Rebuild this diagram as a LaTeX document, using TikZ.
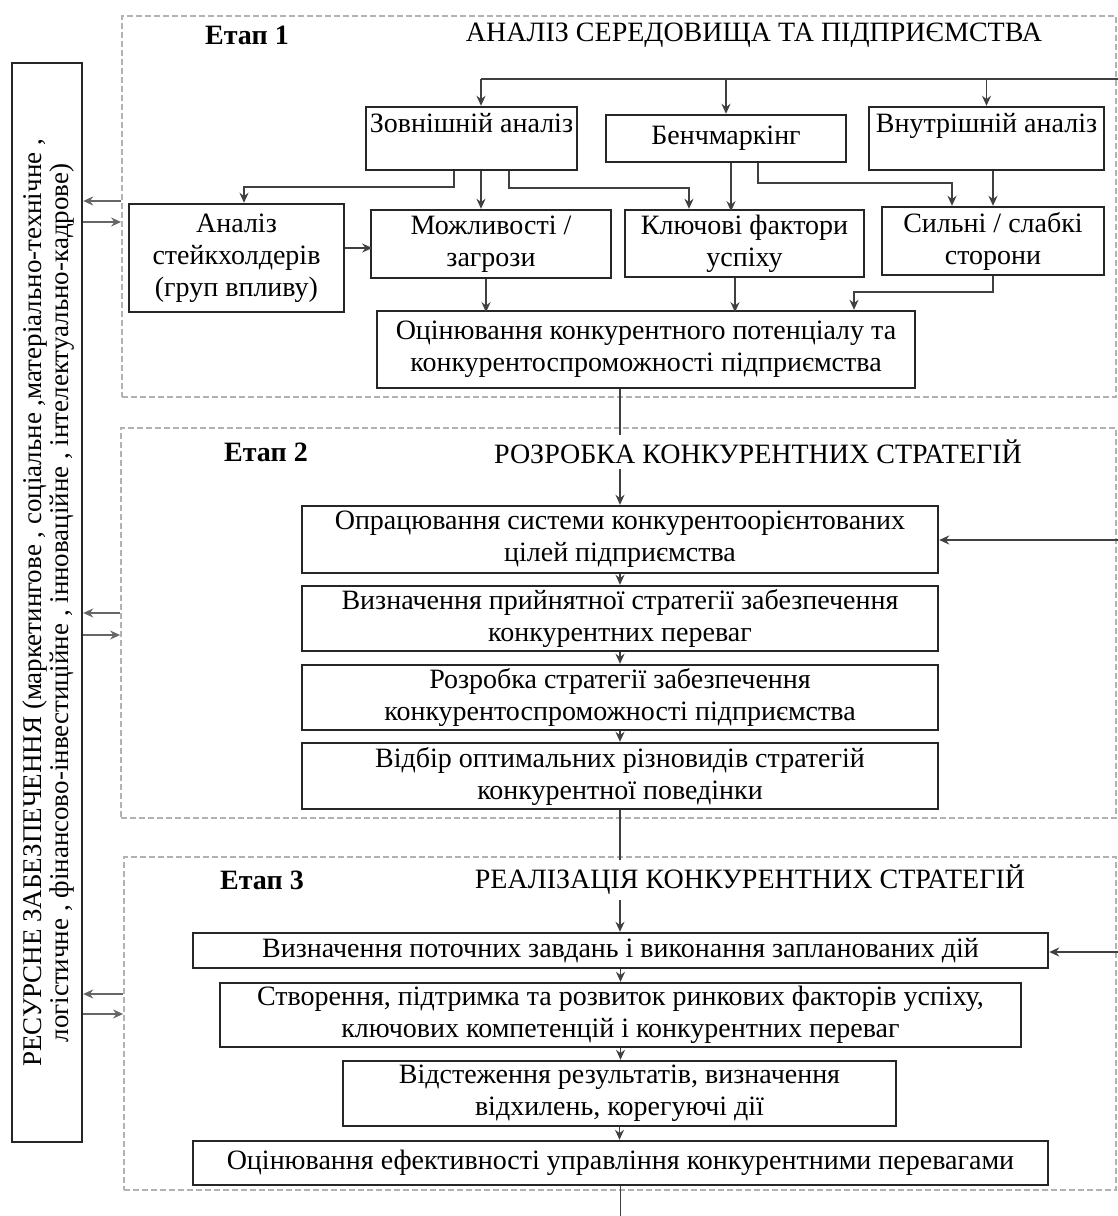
\documentclass[tikz,border=0pt]{standalone}
\usepackage{fontspec}
\setmainfont{Liberation Serif}
\usetikzlibrary{arrows.meta, positioning}

\begin{document}
\begin{tikzpicture}[
  x=0.5pt, y=-0.5pt, >={Stealth[length=5pt,width=4.5pt]},
  every node/.style={font=\fontsize{14}{16}\selectfont},
  blk/.style={draw=black!85, line width=1.2pt, align=center, inner sep=1pt},
  stage/.style={draw=black!30, line width=0.9pt, dash pattern=on 3pt off 1.5pt},
  etap/.style={font=\bfseries\fontsize{14}{16}\selectfont},
  head/.style={fill=white, inner ysep=2.5pt},
  conn/.style={draw=black!75, line width=0.9pt},
  side/.style={draw=black!60, line width=0.7pt, ->}
]
  \useasboundingbox (0,0) rectangle (1118,1216);
  \node[blk, minimum width=35pt, minimum height=539.5pt] (res) at (47,602.5) {};
  \node[rotate=90, align=center, font=\fontsize{13.5}{13.5}\selectfont] (restxt) at (48.5,603)
    {РЕСУРСНЕ ЗАБЕЗПЕЧЕННЯ (маркетингове , соціальне ,матеріально-технічне ,\\логістичне , фінансово-інвестиційне , інноваційне , інтелектуально-кадрове)};

  \node[stage, minimum width=497pt, minimum height=190.5pt] (st1) at (619,206.5) {};
  \node[stage, minimum width=497.5pt, minimum height=195pt] (st2) at (618.5,623) {};
  \node[stage, minimum width=496pt, minimum height=166.5pt] (st3) at (620,1023.5) {};

  \node[blk, minimum width=105.5pt, minimum height=31.5pt] (ext) at (471.5,138.5) {Зовнішній аналіз\\~};
  \node[blk, minimum width=120pt, minimum height=23.5pt] (bench) at (726,138.5) {Бенчмаркінг};
  \node[blk, minimum width=117.5pt, minimum height=31.5pt] (int) at (986.5,138.5) {Внутрішній аналіз\\~};
  \node[blk, minimum width=107.5pt, minimum height=54pt] (stake) at (236.5,258) {Аналіз\\стейкхолдерів\\(груп впливу)};
  \node[blk, minimum width=120pt, minimum height=34pt] (opp) at (491,244) {Можливості /\\загрози};
  \node[blk, minimum width=119.5pt, minimum height=33.5pt] (ksf) at (744.5,243.5) {Ключові фактори\\успіху};
  \node[blk, minimum width=111pt, minimum height=34pt] (sw) at (993,241) {Сильні / слабкі\\сторони};
  \node[blk, minimum width=269pt, minimum height=38.5pt] (eval) at (646,349.5) {Оцінювання конкурентного потенціалу та\\конкурентоспроможності підприємства};

  \node[blk, minimum width=318pt, minimum height=33.5pt] (g1) at (620,539.5) {Опрацювання системи конкурентоорієнтованих\\цілей підприємства};
  \node[blk, minimum width=318pt, minimum height=32.5pt] (g2) at (620,618.5) {Визначення прийнятної стратегії забезпечення\\конкурентних переваг};
  \node[blk, minimum width=318pt, minimum height=32.5pt] (g3) at (620,697.5) {Розробка стратегії забезпечення\\конкурентоспроможності підприємства};
  \node[blk, minimum width=318pt, minimum height=33pt] (g4) at (620,776) {Відбір оптимальних різновидів стратегій\\конкурентної поведінки};

  \node[blk, minimum width=427.5pt, minimum height=17.5pt] (r1) at (620.5,950.5) {Визначення поточних завдань і виконання запланованих дій};
  \node[blk, minimum width=400.5pt, minimum height=32pt] (r2) at (620.5,1015) {Створення, підтримка та розвиток ринкових факторів успіху,\\ключових компетенцій і конкурентних переваг};
  \node[blk, minimum width=276.5pt, minimum height=32.5pt] (r3) at (619.5,1093.5) {Відстеження результатів, визначення\\відхилень, корегуючі дії};
  \node[blk, minimum width=427.5pt, minimum height=22pt] (r4) at (620.5,1163) {Оцінювання ефективності управління конкурентними перевагами};

  \coordinate (busL) at (481,79); \coordinate (busR) at (1118,79);
  \coordinate (fb2) at (1118,540); \coordinate (fb3) at (1118,952); \coordinate (out) at (620,1216);
  \coordinate (s1a) at (0,201); \coordinate (s1b) at (0,222);
  \coordinate (s2a) at (0,613); \coordinate (s2b) at (0,635);
  \coordinate (s3a) at (0,994); \coordinate (s3b) at (0,1014);

  \draw[conn] (busL) -- (busR);
  \draw[conn,->] (busL) -- (busL |- ext.north);
  \draw[conn,->] (bench.north |- busL) -- (bench.north);
  \draw[conn,->] (int.north |- busL) -- (int.north);
  \draw[conn,->] ([xshift=-8.75pt]ext.south) -- ++(0,16) -| ([xshift=3.75pt]stake.north);
  \draw[conn,->] (busL |- ext.south) -- (busL |- opp.north);
  \draw[conn,->] ([xshift=18.75pt]ext.south) -- ++(0,17) -| ([xshift=-27.75pt]ksf.north);
  \draw[conn,->] ([xshift=2.5pt]bench.south) -- ++(0,48);
  \draw[conn,->] ([xshift=16pt]bench.south) -- ++(0,20) -| ([xshift=-20.5pt]sw.north);
  \draw[conn,->] (sw.north |- int.south) -- (sw.north);
  \draw[conn,->] ([yshift=5pt]stake.east) -- ++(27,0);
  \draw[conn,->] ([xshift=-2.5pt]opp.south) -- ++(0,33);
  \draw[conn,->] ([xshift=-4.75pt]ksf.south) -- ++(0,34);
  \draw[conn,->] (sw.south) -- ++(0,16) -| ([xshift=104pt]eval.north);
  \draw[conn,->] (g1.north |- eval.south) -- (g1.north);
  \draw[conn,->] (g1) -- (g2); \draw[conn,->] (g2) -- (g3); \draw[conn,->] (g3) -- (g4);
  \draw[conn,->] (g4.south) -- (g4.south |- r1.north);
  \draw[conn,->] (r1.south -| r2.north) -- (r2.north); \draw[conn,->] (r2.south) -- (r2.south |- r3.north);
  \draw[conn,->] (r3.south) -- (r3.south |- r4.north);
  \draw[conn] (r4.south) -- (r4.south |- out);
  \draw[conn,->] (fb2) -- (g1.east |- fb2);
  \draw[conn,->] (fb3) -- (r1.east |- fb3);

  \draw[side] (st1.west |- s1a) -- (res.east |- s1a); \draw[side] (res.east |- s1b) -- (st1.west |- s1b);
  \draw[side] (st2.west |- s2a) -- (res.east |- s2a); \draw[side] (res.east |- s2b) -- (st2.west |- s2b);
  \draw[side] (st3.west |- s3a) -- (res.east |- s3a); \draw[side] (res.east |- s3b) -- (st3.west |- s3b);

  \node[etap] (et1) at (247,35) {Етап 1};
  \node (tt1) at (754,35) {АНАЛІЗ СЕРЕДОВИЩА ТА ПІДПРИЄМСТВА};
  \node[etap] (et2) at (266,452) {Етап 2};
  \node[head] (tt2) at (758,452) {РОЗРОБКА КОНКУРЕНТНИХ СТРАТЕГІЙ};
  \node[etap] (et3) at (262,880) {Етап 3};
  \node[head] (tt3) at (750,880) {РЕАЛІЗАЦІЯ КОНКУРЕНТНИХ СТРАТЕГІЙ};
\end{tikzpicture}
\end{document}
